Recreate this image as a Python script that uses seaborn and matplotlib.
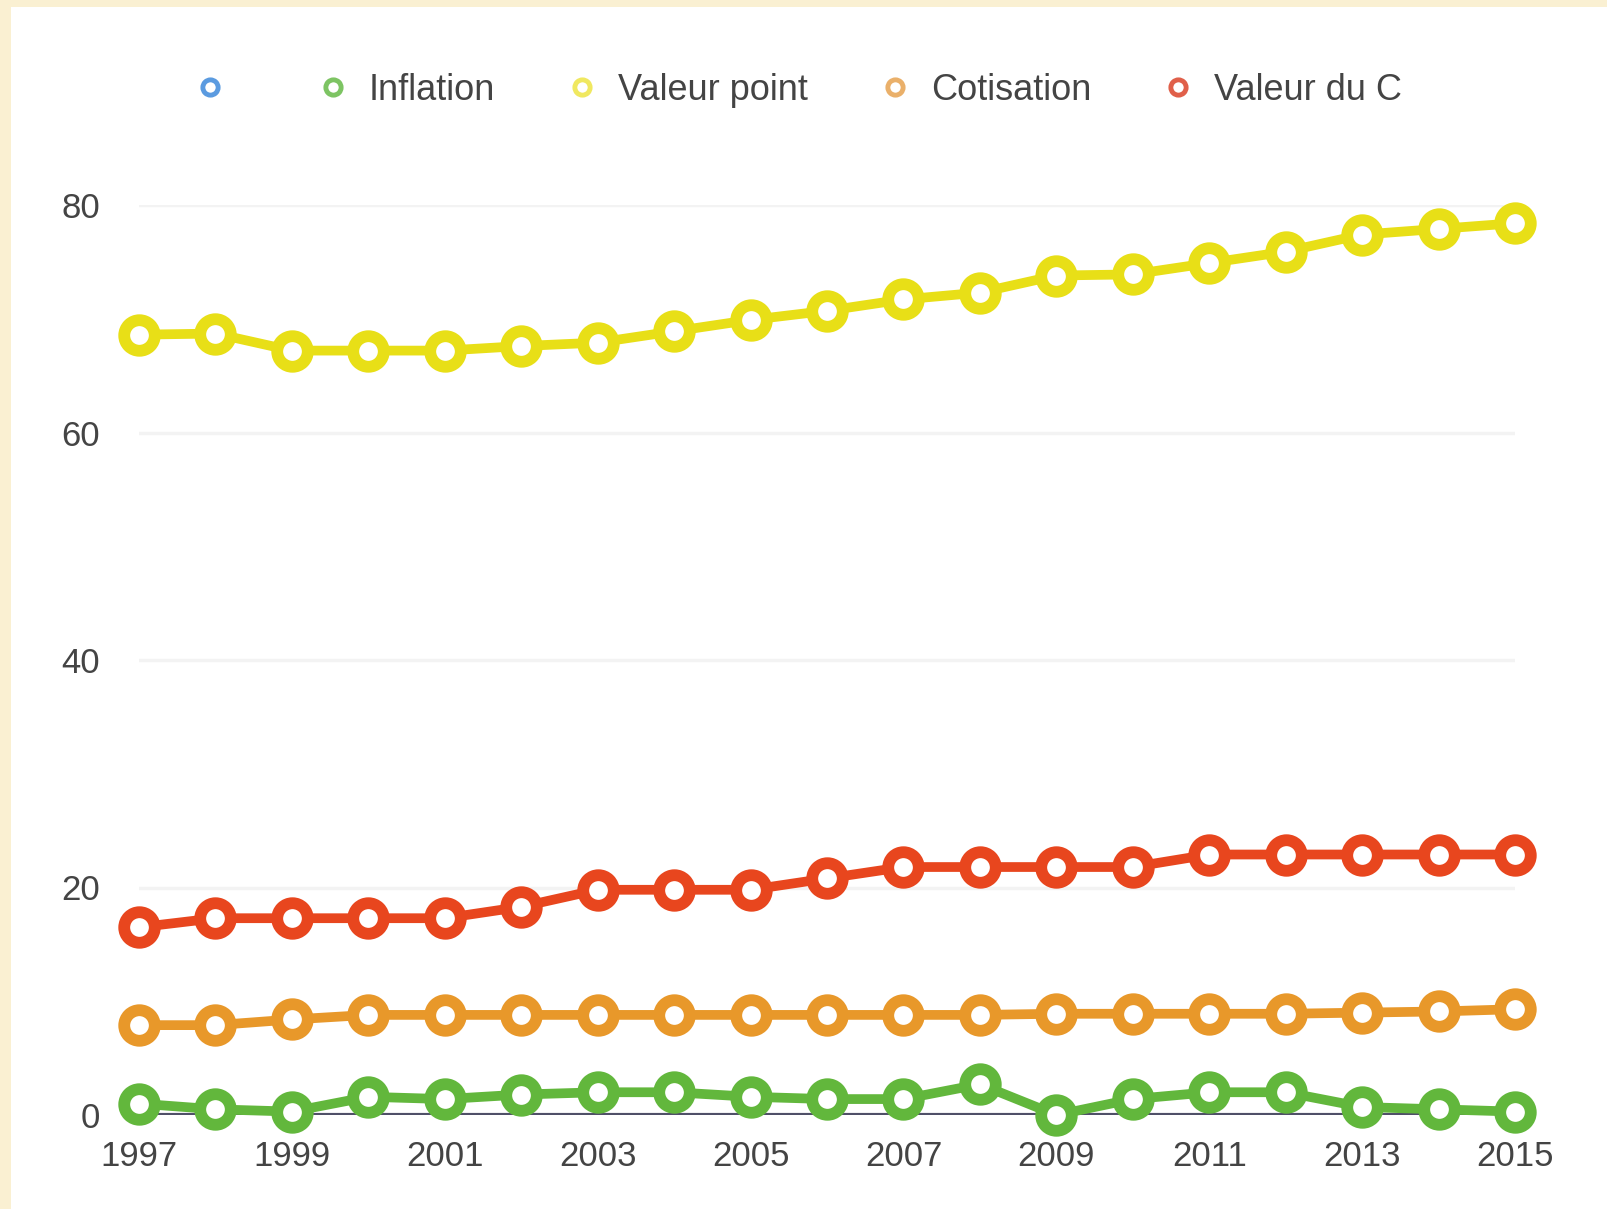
import pandas as pd
import numpy as np
import matplotlib
matplotlib.use("Agg")
import matplotlib.pyplot as plt
import seaborn as sns
from matplotlib.lines import Line2D
from matplotlib.patches import Rectangle

# data
years = list(range(1997, 2016))
inflation = [1.0, 0.5, 0.3, 1.6, 1.4, 1.8, 2.0, 2.0, 1.6, 1.4, 1.4, 2.7, 0.0, 1.4, 2.0, 2.0, 0.7, 0.5, 0.3]
valeur_point = [68.6, 68.7, 67.2, 67.2, 67.2, 67.6, 67.9, 68.9, 69.9, 70.7, 71.7, 72.3, 73.8, 73.9, 74.9, 75.9, 77.4, 77.9, 78.4]
cotisation = [7.9, 7.9, 8.4, 8.8, 8.8, 8.8, 8.8, 8.8, 8.8, 8.8, 8.8, 8.8, 8.9, 8.9, 8.9, 8.9, 9.0, 9.1, 9.3]
valeur_du_c = [16.5, 17.3, 17.3, 17.3, 17.3, 18.3, 19.8, 19.8, 19.8, 20.8, 21.8, 21.8, 21.8, 21.8, 22.9, 22.9, 22.9, 22.9, 22.9]

series_names = ["Inflation", "Valeur point", "Cotisation", "Valeur du C"]
legend_labels = ["", "Inflation", "Valeur point", "Cotisation", "Valeur du C"]
colors = {"Inflation": "#62b73c", "Valeur point": "#e8df17", "Cotisation": "#e8982a", "Valeur du C": "#e8461e"}
legend_colors = ["#5b9be0", "#7dc463", "#f0e860", "#eab06a", "#e0604a"]
y_ticks = [0, 20, 40, 60, 80]
x_ticks = list(range(1997, 2016, 2))

df = pd.DataFrame({"Année": years, "Inflation": inflation, "Valeur point": valeur_point,
                   "Cotisation": cotisation, "Valeur du C": valeur_du_c})
long_df = df.melt(id_vars="Année", var_name="Série", value_name="Valeur")

sns.set_style("white")
plt.rcParams["font.family"] = ["Liberation Sans", "DejaVu Sans"]

fig = plt.figure(figsize=(16.07, 12.09), dpi=100)
fig.patch.set_facecolor("#faf0d2")
fig.patches.append(Rectangle((11 / 1607, 0), 1, 1 - 7 / 1209, transform=fig.transFigure,
                             facecolor="white", edgecolor="none", zorder=-10))

ax = fig.add_axes([139 / 1607, 1 - 1115 / 1209, (1515 - 139) / 1607, (1115 - 205) / 1209])
ax.set_facecolor("none")

ax.axhline(0, color="#505068", lw=3, zorder=1.5)
for t in y_ticks[1:]:
    ax.axhline(t, color="#f3f3f3", lw=2.5, zorder=1)

sns.lineplot(data=long_df, x="Année", y="Valeur", hue="Série", hue_order=series_names,
             palette=colors, marker="o", markersize=22, markeredgewidth=8.5,
             markerfacecolor="white", linewidth=7, legend=False, ax=ax)
for line in ax.get_lines()[len(y_ticks):]:
    line.set_markeredgecolor(line.get_color())
    line.set_clip_on(False)

ax.set_xlim(1997, 2015)
ax.set_ylim(0, 80)
ax.set_xticks(x_ticks)
ax.set_yticks(y_ticks)
ax.set_xlabel("")
ax.set_ylabel("")
ax.tick_params(axis="y", length=0, pad=28, labelsize=25, labelcolor="#444444")
ax.tick_params(axis="x", length=0, pad=18, labelsize=25, labelcolor="#444444")
sns.despine(ax=ax, left=True, bottom=True)

handles = [Line2D([], [], linestyle="none", marker="o", markersize=11, markeredgewidth=3.5,
                  markerfacecolor="white", markeredgecolor=c) for c in legend_colors]
fig.legend(handles, legend_labels, loc="center", bbox_to_anchor=(0.496, 1 - 90 / 1209),
           ncol=5, frameon=False, fontsize=26, labelcolor="#444444",
           handlelength=1.0, handletextpad=0.5, columnspacing=1.9)

fig.savefig("out.png", dpi=100, facecolor=fig.get_facecolor())
